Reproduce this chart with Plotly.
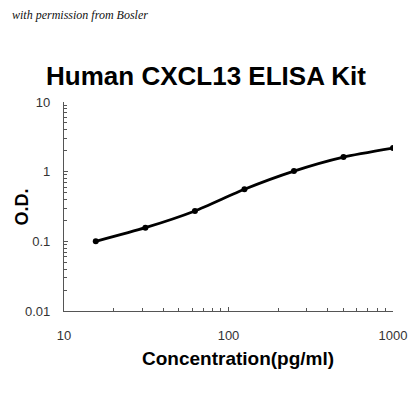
import plotly.graph_objects as go

# standard curve readings
concentration = [15.6, 31.25, 62.5, 125, 250, 500, 1000]
od = [0.100, 0.157, 0.273, 0.56, 1.02, 1.62, 2.18]

x_major = [10, 100, 1000]
x_major_text = ["10", "100", "1000"]
y_major = [0.01, 0.1, 1, 10]
y_major_text = ["0.01", "0.1", "1", "10"]

fig = go.Figure()
fig.add_trace(go.Scatter(
    x=concentration, y=od, mode="lines+markers",
    line=dict(color="black", width=2.8, shape="spline", smoothing=0.6),
    marker=dict(color="black", size=6),
    showlegend=False,
))

axis_font = dict(family="Liberation Sans, Arial", size=13, color="#333333")

# page has an 8px body margin, so the figure is sized to fit inside it
fig.update_layout(
    width=404, height=404,
    margin=dict(l=56, r=19, t=94, b=101, autoexpand=False),
    plot_bgcolor="white", paper_bgcolor="white",
    title=dict(text="<b>Human CXCL13 ELISA Kit</b>", x=0.49, xanchor="center",
               y=0.832, yanchor="middle",
               font=dict(family="Liberation Sans, Arial", size=26, color="black")),
    xaxis=dict(
        type="log", range=[1, 3], automargin=False,
        tickvals=x_major, ticktext=x_major_text,
        ticks="inside", ticklen=4, tickcolor="#555555",
        minor=dict(ticks="inside", ticklen=3, tickcolor="#555555", showgrid=False,
                   dtick="D1"),
        showline=True, linecolor="#555555", linewidth=1.2,
        showgrid=False, zeroline=False,
        tickfont=axis_font, ticklabelstandoff=12,
    ),
    yaxis=dict(
        type="log", range=[-2, 1], automargin=False,
        tickvals=y_major, ticktext=y_major_text,
        ticks="inside", ticklen=4, tickcolor="#555555",
        minor=dict(ticks="inside", ticklen=3, tickcolor="#555555", showgrid=False,
                   dtick="D1"),
        showline=True, linecolor="#555555", linewidth=1.2,
        showgrid=False, zeroline=False,
        tickfont=axis_font, ticklabelstandoff=10,
    ),
)

fig.add_annotation(
    text="<b>Concentration(pg/ml)</b>", xref="paper", yref="paper",
    x=0.529, y=-0.225, xanchor="center", yanchor="middle", showarrow=False,
    font=dict(family="Liberation Sans, Arial", size=19, color="black"),
)
fig.add_annotation(
    text="<b>O.D.</b>", xref="paper", yref="paper", textangle=-90,
    x=-0.128, y=0.5, xanchor="center", yanchor="middle", showarrow=False,
    font=dict(family="Liberation Sans, Arial", size=18, color="black"),
)
fig.add_annotation(
    text="<i>with permission from Bosler</i>", xref="paper", yref="paper",
    x=-0.164, y=1.416, xanchor="left", yanchor="middle", showarrow=False,
    font=dict(family="Liberation Serif, DejaVu Serif", size=12, color="#111111"),
)

fig.write_html("out.html")
